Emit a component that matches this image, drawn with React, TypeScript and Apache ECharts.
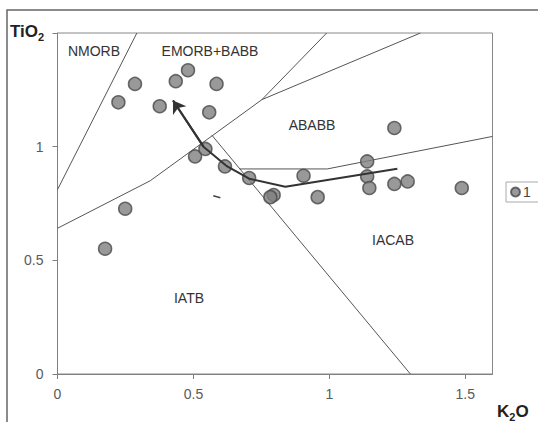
import React, { useEffect, useRef } from "react";
import * as echarts from "echarts";

// Sample points (K2O, TiO2)
const k2o = [0.224, 0.285, 0.376, 0.435, 0.48, 0.585, 0.558, 0.506, 0.544, 0.616, 0.705, 0.795, 0.783, 0.905, 0.957, 1.239, 1.139, 1.139, 1.147, 1.239, 1.288, 1.487, 0.249, 0.175];
const tio2 = [1.195, 1.276, 1.178, 1.288, 1.336, 1.276, 1.151, 0.957, 0.99, 0.913, 0.862, 0.787, 0.778, 0.872, 0.778, 1.082, 0.935, 0.869, 0.818, 0.836, 0.847, 0.818, 0.727, 0.551];

// Field boundaries
const lineNmorb = [[0, 0.811], [0.292, 1.5]];
const lineLower = [[0, 0.641], [0.341, 0.85], [0.752, 1.207], [0.99, 1.5]];
const lineBranch = [[0.752, 1.207], [1.335, 1.5]];
const lineDiagonal = [[0.568, 1.05], [1.298, 0]];
const lineAbabb = [[0.67, 0.902], [0.992, 0.902], [1.6, 1.045]];

// Trend line (arrow at first point)
const trend = [[0.425, 1.203], [0.537, 1.0], [0.621, 0.916], [0.705, 0.859], [0.838, 0.824], [1.25, 0.903]];
const strayMark = [[0.573, 0.784], [0.599, 0.775]];

const xTicks = [0, 0.5, 1, 1.5];
const yTicks = [0, 0.5, 1, 1.5];

const regionLabels = [
  { text: "NMORB", x: 94, y: 51 },
  { text: "EMORB+BABB", x: 210, y: 51 },
  { text: "ABABB", x: 312, y: 125 },
  { text: "IACAB", x: 393, y: 240 },
  { text: "IATB", x: 189, y: 298 },
];

const FONT = "'Liberation Sans', Arial, sans-serif";

export default function App() {
  const ref = useRef<HTMLDivElement>(null);
  useEffect(() => {
    if (!ref.current) return;
    const chart = echarts.init(ref.current, null, { renderer: "svg" });
    const boundary = (data: number[][]) => ({
      type: "line",
      data,
      showSymbol: false,
      symbol: "none",
      silent: true,
      lineStyle: { color: "#555", width: 1 },
      z: 2,
    });
    const rich = {
      a: { fontSize: 17, fontWeight: "bold", fill: "#222", fontFamily: FONT, lineHeight: 22, verticalAlign: "middle" },
      s: { fontSize: 11, fontWeight: "bold", fill: "#222", fontFamily: FONT, lineHeight: 22, verticalAlign: "bottom" },
    };
    chart.setOption({
      animation: false,
      backgroundColor: "#fff",
      textStyle: { fontFamily: FONT },
      grid: {
        left: 57.5,
        top: 33,
        width: 435,
        height: 341,
        show: true,
        borderColor: "#888",
        borderWidth: 1,
      },
      legend: {
        data: ["1"],
        left: 506,
        top: 182,
        orient: "vertical",
        borderColor: "#aaa",
        borderWidth: 1,
        padding: [3, 14, 3, 4],
        itemWidth: 9,
        itemHeight: 9,
        itemGap: 4,
        icon: "circle",
        textStyle: { fontSize: 14, color: "#444", fontFamily: FONT, padding: [0, 0, 0, -2] },
      },
      xAxis: {
        type: "value",
        min: 0,
        max: 1.6,
        interval: 0.5,
        splitLine: { show: false },
        axisLine: { lineStyle: { color: "#808080", width: 1 } },
        axisTick: { show: true, length: 5, lineStyle: { color: "#808080" }, customValues: xTicks },
        axisLabel: {
          customValues: xTicks,
          fontSize: 14,
          color: "#5a5a5a",
          margin: 13,
          fontFamily: FONT,
        },
      },
      yAxis: {
        type: "value",
        min: 0,
        max: 1.5,
        interval: 0.5,
        splitLine: { show: false },
        axisLine: { lineStyle: { color: "#808080", width: 1 } },
        axisTick: { show: true, length: 5, lineStyle: { color: "#808080" }, customValues: yTicks },
        axisLabel: {
          customValues: [0, 0.5, 1],
          fontSize: 14,
          color: "#5a5a5a",
          margin: 14,
          fontFamily: FONT,
        },
      },
      series: [
        boundary(lineNmorb),
        boundary(lineLower),
        boundary(lineBranch),
        boundary(lineDiagonal),
        boundary(lineAbabb),
        {
          type: "line",
          data: strayMark,
          showSymbol: false,
          symbol: "none",
          silent: true,
          lineStyle: { color: "#444", width: 1.5 },
          z: 2,
        },
        {
          name: "1",
          type: "scatter",
          data: k2o.map((x, i) => [x, tio2[i]]),
          symbol: "circle",
          symbolSize: 13,
          itemStyle: { color: "#7f7f7f", borderColor: "#4a4a4a", borderWidth: 1.5 },
          z: 3,
        },
        {
          type: "line",
          data: trend,
          showSymbol: false,
          symbol: "none",
          silent: true,
          lineStyle: { color: "#333", width: 2 },
          z: 4,
        },
        {
          type: "lines",
          coordinateSystem: "cartesian2d",
          silent: true,
          symbol: ["none", "arrow"],
          symbolSize: [6, 12],
          lineStyle: { color: "#333", width: 2, opacity: 1 },
          data: [{ coords: [trend[1], trend[0]] }],
          z: 4,
        },
      ],
      graphic: [
        {
          type: "rect",
          shape: { x: 7, y: 10, width: 620, height: 500 },
          style: { fill: "none", stroke: "#666", lineWidth: 1.5 },
          silent: true,
        },
        ...regionLabels.map((l) => ({
          type: "text",
          x: l.x,
          y: l.y,
          style: {
            text: l.text,
            fill: "#333",
            font: `14px ${FONT}`,
            align: "center",
            verticalAlign: "middle",
          },
          silent: true,
        })),
        {
          type: "text",
          x: 10,
          y: 31,
          style: { text: "{a|TiO}{s|2}", verticalAlign: "middle", rich },
          silent: true,
        },
        {
          type: "text",
          x: 497,
          y: 411,
          style: { text: "{a|K}{s|2}{a|O}", verticalAlign: "middle", rich },
          silent: true,
        },
      ],
    });
    return () => chart.dispose();
  }, []);
  return (
    <div
      ref={ref}
      style={{ position: "fixed", left: 0, top: 0, width: 538, height: 422 }}
    />
  );
}
